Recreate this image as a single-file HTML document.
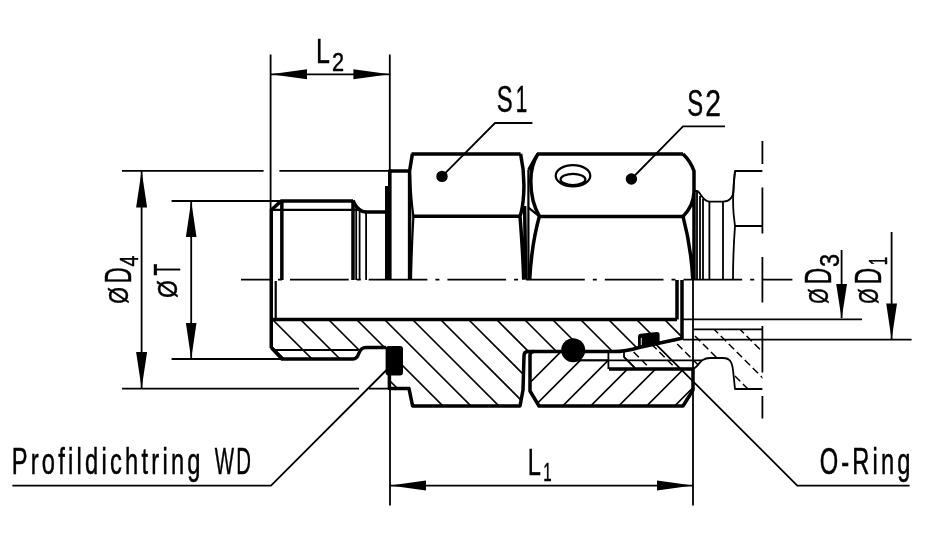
<!DOCTYPE html>
<html lang="de">
<head>
<meta charset="utf-8">
<title>Einschraubstutzen</title>
<style>
html,body{margin:0;padding:0;background:#fff;overflow:hidden}
svg{display:block;will-change:transform}
text{font-family:"Liberation Sans","DejaVu Sans",sans-serif;fill:#000;stroke:#000;stroke-width:0.45;vector-effect:non-scaling-stroke}
.k{stroke:#000;stroke-width:3.5;fill:none;stroke-linecap:butt;stroke-linejoin:round}
.m{stroke:#000;stroke-width:2.2;fill:none;stroke-linejoin:round}
.t{stroke:#000;stroke-width:1.8;fill:none}
.n{stroke:#000;stroke-width:1.8;fill:none;stroke-linejoin:round}
.h{stroke:#000;stroke-width:1.7;fill:none}
.hd{stroke:#000;stroke-width:1.5;fill:none;stroke-dasharray:7.5 3.8}
.a{fill:#000;stroke:none}
</style>
</head>
<body>
<svg width="935" height="535" viewBox="0 0 935 535">
<rect x="0" y="0" width="935" height="535" fill="#fff"/>
<defs>
<clipPath id="c1"><path d="M271,320 L271,348 L282,359 L353,359 Q357,359 359,353 Q361,347.6 366,347.6 L403,347.6 L403,375.6 L389.4,375.6 L389.4,388.6 L409,388.6 L412.6,406 L520,406 L523,390 L524,356 Q524,351.6 528,351.6 L620,351.6 L682,338 L682,319.5 Z"/></clipPath>
<clipPath id="c2"><path d="M539,406 L530,391 L530,355 L533,351.6 L573,351.6 L573,359.6 L609,359.6 L609,369 L693,369 L693,390 L683,406 Z"/></clipPath>
<clipPath id="c3"><path d="M624,352 L682,338.5 L693,338.5 L693,329.4 L762.4,329.4 L762.4,389 L735,389 L733,370 C732,362 730,358 723,358 L709,358 C703,358 700,362 696,368.5 L635,368.5 L624,357 Z"/></clipPath>
</defs>

<!-- SECTION HATCH -->
<g id="hatch1" clip-path="url(#c1)" class="h">
<path d="M245.0,320 l86,86 M273.0,320 l86,86 M301.0,320 l86,86 M329.0,320 l86,86 M357.0,320 l86,86 M385.0,320 l86,86 M413.0,320 l86,86 M441.0,320 l86,86 M469.0,320 l86,86 M497.0,320 l86,86 M525.0,320 l86,86 M553.0,320 l86,86 M581.0,320 l86,86 M609.0,320 l86,86 M637.0,320 l86,86 M665.0,320 l86,86"/>
</g>
<g id="hatch2" clip-path="url(#c2)" class="h">
<path d="M506.6,406 l56,-56 M534.6,406 l56,-56 M562.6,406 l56,-56 M590.6,406 l56,-56 M618.6,406 l56,-56 M646.6,406 l56,-56 M674.6,406 l56,-56"/>
</g>
<g id="hatch3" clip-path="url(#c3)" class="hd">
<path d="M601.6,320 l80,80 M627.4,320 l80,80 M653.2,320 l80,80 M679,320 l80,80 M704.8,320 l80,80 M730.6,320 l80,80"/>
</g>

<!-- CENTRE LINES -->
<path class="t" d="M241,279.6 H792.4" stroke-dasharray="58.7 8 4 8" stroke-dashoffset="29.7"/>
<path class="t" d="M762.4,141 V164 M762.4,187.6 V233.4 M762.4,257 V302.6 M762.4,326 V372.5 M762.4,396 V418.6"/>

<!-- EXTERIOR VIEW (upper half) -->
<g id="upper">
<path class="k" d="M271.2,210 L281.4,200.9 H353 M353,200.9 V280"/><path class="k" stroke-width="4" d="M271.25,281 V209.6 M281.85,200.9 V280"/>
<path class="m" d="M271,209.9 H362"/>
<path class="k" d="M353,200.4 Q356.5,209.5 363,211.5 L366,211.9 H386"/>
<path class="n" d="M356.2,205 V280 M359.6,210 V280 M366.1,211 V280"/>
<path class="a" d="M385,186 H388 V169.4 H391.6 V280 H385 Z"/><path class="k" stroke-width="3.1" d="M390,171 H409.5"/>
<path class="k" d="M412.4,153.9 L409.6,171 V280"/><path class="m" d="M409.8,171 Q411,200 413.4,216.3 Q411.5,250 411,280"/>
<path class="k" d="M411.5,153.9 H520.6 M412.5,216.3 H520"/>
<path class="k" d="M520.6,153.9 C523,165 524.6,180 523.6,195 C523,205 521.5,212 520,216.3 C521.5,235 523,255 523.7,279.6 M524.6,206 L525.8,279.6"/>
<path class="m" d="M528.4,170 V279.6"/>
<path class="k" d="M538,153.9 C534,160 531,166 528.8,170 M538,153.9 C533,162 530.8,170 530.8,181 C530.8,195 534,207 539.4,216.3 C535,232 531,255 529.7,279.6"/>
<path class="m" d="M528.4,207.7 L539.4,216.3"/>
<path class="k" d="M537,153.9 H683 M539.4,216.4 H683"/>
<path class="k" d="M683,153.9 Q690.5,161 694,171 V280 M694,192 Q693.5,206 683,216.4 C688,235 691.5,255 692.8,279.6"/>
<ellipse cx="573" cy="175.8" rx="17.3" ry="10.6" class="m" stroke-width="2.6"/>
<ellipse cx="573" cy="179.4" rx="12.4" ry="5.6" class="m" stroke-width="2.6"/>
<circle cx="442" cy="176.4" r="5.7" class="a"/>
<circle cx="631.4" cy="179" r="5.7" class="a"/>
<!-- adjacent part -->
<path class="n" d="M694,191 H697 C700,191 702.5,201.6 709.4,201.6 H723 C730,201.6 733,198 733.6,190 C734,182 734.4,176 735,171 H762.4"/>
<path class="n" d="M697,191 V280 M700,196 V280 M703,199 V280 M709.4,201.6 V280 M723,201.6 V280"/>
<path class="n" d="M735,171 C733,186 732.6,200 733.6,214 L735,226 H762.4 M735,226 C733.6,245 733,262 733,280"/>
</g>

<!-- SECTION VIEW (lower half) outlines -->
<g id="lower">
<path class="k" stroke-width="3.9" d="M271.25,280 V348"/><path class="k" d="M271.25,347.5 L282,359 H353 Q357,359 359,353 Q361,347.6 366,347.6 H386"/>
<path class="m" stroke-width="2.8" d="M275.7,281 V319.5"/><path class="m" d="M275,350 H358"/>
<path class="k" d="M271,319.5 H677 M677,280 V319.5 M682,280 V338.3 L640,347.2 Q625,351.6 614,351.6 H528 Q524,351.6 524,356 L523,390 L520,406 H412.6 L409,388.6 H389.4 V375"/>
<rect x="385.6" y="346" width="17.4" height="29.6" rx="3" ry="3" class="a"/>
<path class="k" d="M534,351.6 Q530,351.6 530,355 V391 L539,406 H683 L693,390 V369 H609"/>
<path class="n" d="M608.4,353 V369 M624,352 V357 L635,368"/><path class="m" stroke-width="2.5" d="M578,360.3 H609"/><path class="t" stroke-width="1.6" d="M609,360.3 H702"/>
<path class="n" stroke-width="2.1" d="M694,368.5 C699,366 700,358 710,358 H723 C730,358 732,362 733,370 L735,389 H762.4 M693,329.4 H762.4"/>
<circle cx="573.2" cy="350.2" r="12" class="a"/>
<path class="a" d="M638,337 Q638,334.2 640.6,333.8 L656.6,331.9 Q659.6,331.7 659.6,334.5 L659.6,343.5 L638,348.4 Z"/><path d="M641.3,338 V345" stroke="#fff" stroke-width="0.9" fill="none"/>
</g>

<!-- DIMENSIONS -->
<g id="dims">
<!-- L2 -->
<path class="t" d="M270.6,54.4 V210 M389.8,54.4 V170 M270.6,74.3 H389.8"/>
<path class="a" d="M270.6,74.3 l36.4,-5 v10 z M389.8,74.3 l-36.4,-5 v10 z"/>
<!-- D4 -->
<path class="t" d="M122,170.8 H263.6 M279.4,170.8 H390 M122,388.6 H359 M369,388.6 H389.4 M141.6,170.8 V388.6"/>
<path class="a" d="M141.6,170.8 l-5.5,36.6 h11 z M141.6,388.6 l-5.5,-36.6 h11 z"/>
<!-- T -->
<path class="t" d="M171.6,201 H281 M171.6,359 H283 M191.2,201 V359"/>
<path class="a" d="M191.2,201 l-5.3,36 h10.6 z M191.2,359 l-5.3,-36 h10.6 z"/>
<!-- L1 -->
<path class="t" d="M390,388 V505.4 M693,280 V505.4 M390,485.6 H693"/>
<path class="a" d="M390,485.6 l36,-5 v10 z M693,485.6 l-36,-5 v10 z"/>
<!-- D3 / D1 -->
<path class="t" d="M683,319.3 H862 M683,339.6 H911.6 M841.6,250 V318 M891.6,232 V339"/>
<path class="a" d="M841.6,319 l-5.4,-35 h10.8 z M891.6,339.6 l-5.4,-36 h10.8 z"/>
<!-- leaders -->
<path class="t" d="M442,176.4 L495,123 H532.4 M631.4,179 L683,126.4 H725 M12.4,485.6 H271 L386.5,370 M655,343.3 L797.3,485.6 H909.6"/>
</g>

<!-- TEXT -->
<g id="labels">
<text><tspan x="316.00" y="63" font-size="35" textLength="13.90" lengthAdjust="spacingAndGlyphs">L</tspan><tspan x="331.91" y="70.6" font-size="26" textLength="12.09" lengthAdjust="spacingAndGlyphs">2</tspan></text>
<text><tspan x="496.81" y="111.6" font-size="36.5" textLength="15.91" lengthAdjust="spacingAndGlyphs">S</tspan><tspan x="515.84" y="111.6" font-size="37" textLength="11.51" lengthAdjust="spacingAndGlyphs">1</tspan></text>
<text><tspan x="687.21" y="116" font-size="36.5" textLength="15.91" lengthAdjust="spacingAndGlyphs">S</tspan><tspan x="705.19" y="116" font-size="37" textLength="15.71" lengthAdjust="spacingAndGlyphs">2</tspan></text>
<text><tspan x="527.71" y="474.6" font-size="36" textLength="13.14" lengthAdjust="spacingAndGlyphs">L</tspan><tspan x="543.29" y="480.6" font-size="25" textLength="8.40" lengthAdjust="spacingAndGlyphs">1</tspan></text>
<text transform="translate(819.8 473.6) scale(0.64 1)" font-size="37" letter-spacing="4.9">O-Ring</text>
<text transform="translate(11.7 473.6) scale(0.64 1)" font-size="37" letter-spacing="5.07">Profildichtring <tspan letter-spacing="0" x="317.34" y="0" font-size="37" textLength="30.13" lengthAdjust="spacingAndGlyphs">W</tspan><tspan letter-spacing="0" x="351.05" y="0" font-size="37" textLength="22.94" lengthAdjust="spacingAndGlyphs">D</tspan></text>
<g transform="translate(131 303) rotate(-90)"><text><tspan x="-0.86" y="-3.5" font-size="28" textLength="16.67" lengthAdjust="spacingAndGlyphs">Ø</tspan><tspan x="19.64" y="0" font-size="37" textLength="15.91" lengthAdjust="spacingAndGlyphs">D</tspan><tspan x="36.61" y="7" font-size="26" textLength="10.90" lengthAdjust="spacingAndGlyphs">4</tspan></text></g>
<g transform="translate(180 297) rotate(-90)"><text><tspan x="-0.91" y="-3.5" font-size="28" textLength="17.78" lengthAdjust="spacingAndGlyphs">Ø</tspan><tspan x="21.61" y="0" font-size="37" textLength="11.79" lengthAdjust="spacingAndGlyphs">T</tspan></text></g>
<g transform="translate(831 303) rotate(-90)"><text><tspan x="-0.79" y="-3.5" font-size="28" textLength="15.34" lengthAdjust="spacingAndGlyphs">Ø</tspan><tspan x="18.78" y="0" font-size="37" textLength="16.40" lengthAdjust="spacingAndGlyphs">D</tspan><tspan x="36.06" y="8" font-size="27" textLength="13.01" lengthAdjust="spacingAndGlyphs">3</tspan></text></g>
<g transform="translate(881 303) rotate(-90)"><text><tspan x="-0.79" y="-3.5" font-size="28" textLength="15.34" lengthAdjust="spacingAndGlyphs">Ø</tspan><tspan x="18.78" y="0" font-size="37" textLength="16.40" lengthAdjust="spacingAndGlyphs">D</tspan><tspan x="37.79" y="6" font-size="26" textLength="8.40" lengthAdjust="spacingAndGlyphs">1</tspan></text></g>
</g>
</svg>
</body>
</html>
